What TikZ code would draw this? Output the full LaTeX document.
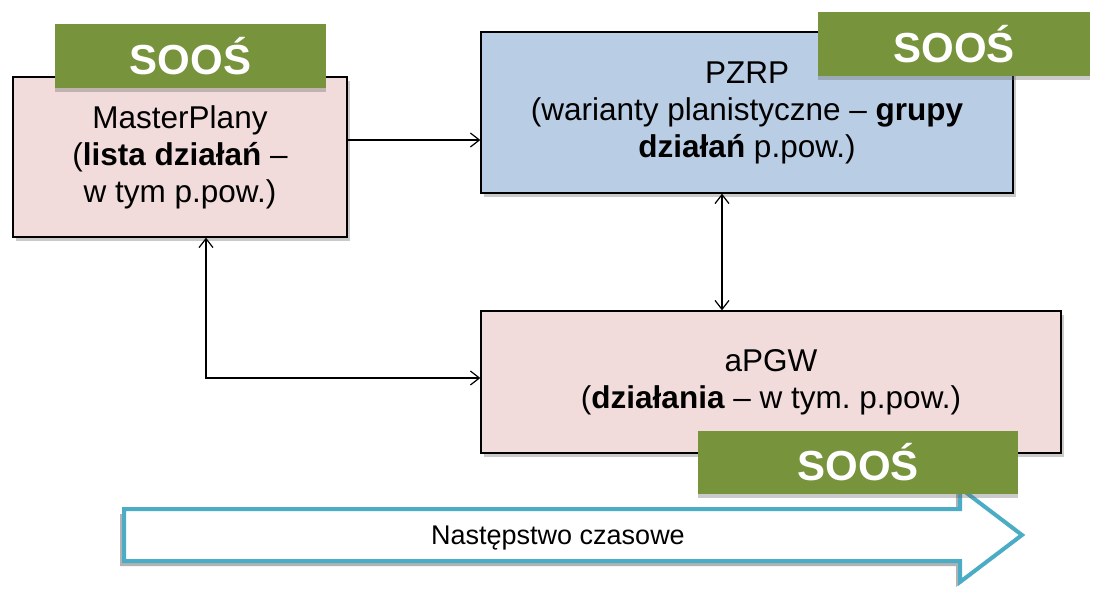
\documentclass[tikz,border=0pt]{standalone}
\usepackage{fontspec}
\setmainfont{Liberation Sans}
\usetikzlibrary{arrows.meta,shadows}
\definecolor{pinkfill}{HTML}{F2DCDB}
\definecolor{bluefill}{HTML}{B9CDE5}
\definecolor{greenfill}{HTML}{77933C}
\definecolor{arrowblue}{HTML}{4BACC6}
\tikzset{
  planbox/.style={draw=black, line width=1.3pt, inner sep=0pt, align=center,
    font=\fontsize{31.5}{37}\selectfont,
    drop shadow={shadow xshift=3pt, shadow yshift=-4pt, opacity=0.35, fill=black!60}},
  soosbox/.style={fill=greenfill, inner sep=0pt, text=white,
    font=\fontsize{42}{44}\selectfont\bfseries,
    drop shadow={shadow xshift=0pt, shadow yshift=-4pt, opacity=0.35, fill=black!60}},
  link/.style={draw=black, line width=1.2pt, {Straight Barb[length=9pt,width=14pt]}-{Straight Barb[length=9pt,width=14pt]}},
  onelink/.style={draw=black, line width=1.2pt, -{Straight Barb[length=9pt,width=14pt]}},
}
\begin{document}
\frenchspacing
\begin{tikzpicture}[x=1pt,y=-1pt]
\useasboundingbox (0,0) rectangle (1102,589);
% time arrow
\fill[black, opacity=0.3] (120,514) -- (956,514) -- (956,493) -- (1018,540) -- (956,587) -- (956,566) -- (120,566) -- cycle;
\draw[draw=arrowblue, fill=white, line width=4pt, line join=miter]
  (124,509) -- (960,509) -- (960,488) -- (1022,535) -- (960,582) -- (960,561) -- (124,561) -- cycle;
\node[font=\fontsize{27}{30}\selectfont] (time) at (558,538.5) {Następstwo czasowe};
% boxes
\node[planbox, fill=pinkfill, minimum width=334pt, minimum height=160pt] (mp) at (180,157)
  {MasterPlany\\(\textbf{lista działań} –\\w tym p.pow.)};
\node[planbox, fill=bluefill, minimum width=532pt, minimum height=161pt] (pzrp) at (747,112.5)
  {PZRP\\(warianty planistyczne – \textbf{grupy}\\\textbf{działań} p.pow.)};
\node[planbox, fill=pinkfill, minimum width=580pt, minimum height=142pt] (apgw) at (771,382)
  {aPGW\\(\textbf{działania} – w tym. p.pow.)};
% labels
\node[soosbox, minimum width=271pt, minimum height=64pt] (s1) at (190.5,56) {SOOŚ};
\node[soosbox, minimum width=272pt, minimum height=64pt] (s2) at (954,44) {SOOŚ};
\node[soosbox, minimum width=320pt, minimum height=63pt] (s3) at (858,462.5) {SOOŚ};
% connectors
\coordinate (mpr) at (mp.east |- 0,140);
\coordinate (pzl) at (pzrp.west |- 0,140);
\draw[onelink] (mpr) -- (pzl);
\coordinate (pzb) at (722,0 |- pzrp.south);
\coordinate (apt) at (722,0 |- apgw.north);
\draw[link] (pzb) -- (apt);
\coordinate (mpb) at (206,0 |- mp.south);
\coordinate (corner) at (206,378);
\coordinate (apl) at (apgw.west |- 0,378);
\draw[link] (mpb) -- (corner) -- (apl);
\end{tikzpicture}
\end{document}
